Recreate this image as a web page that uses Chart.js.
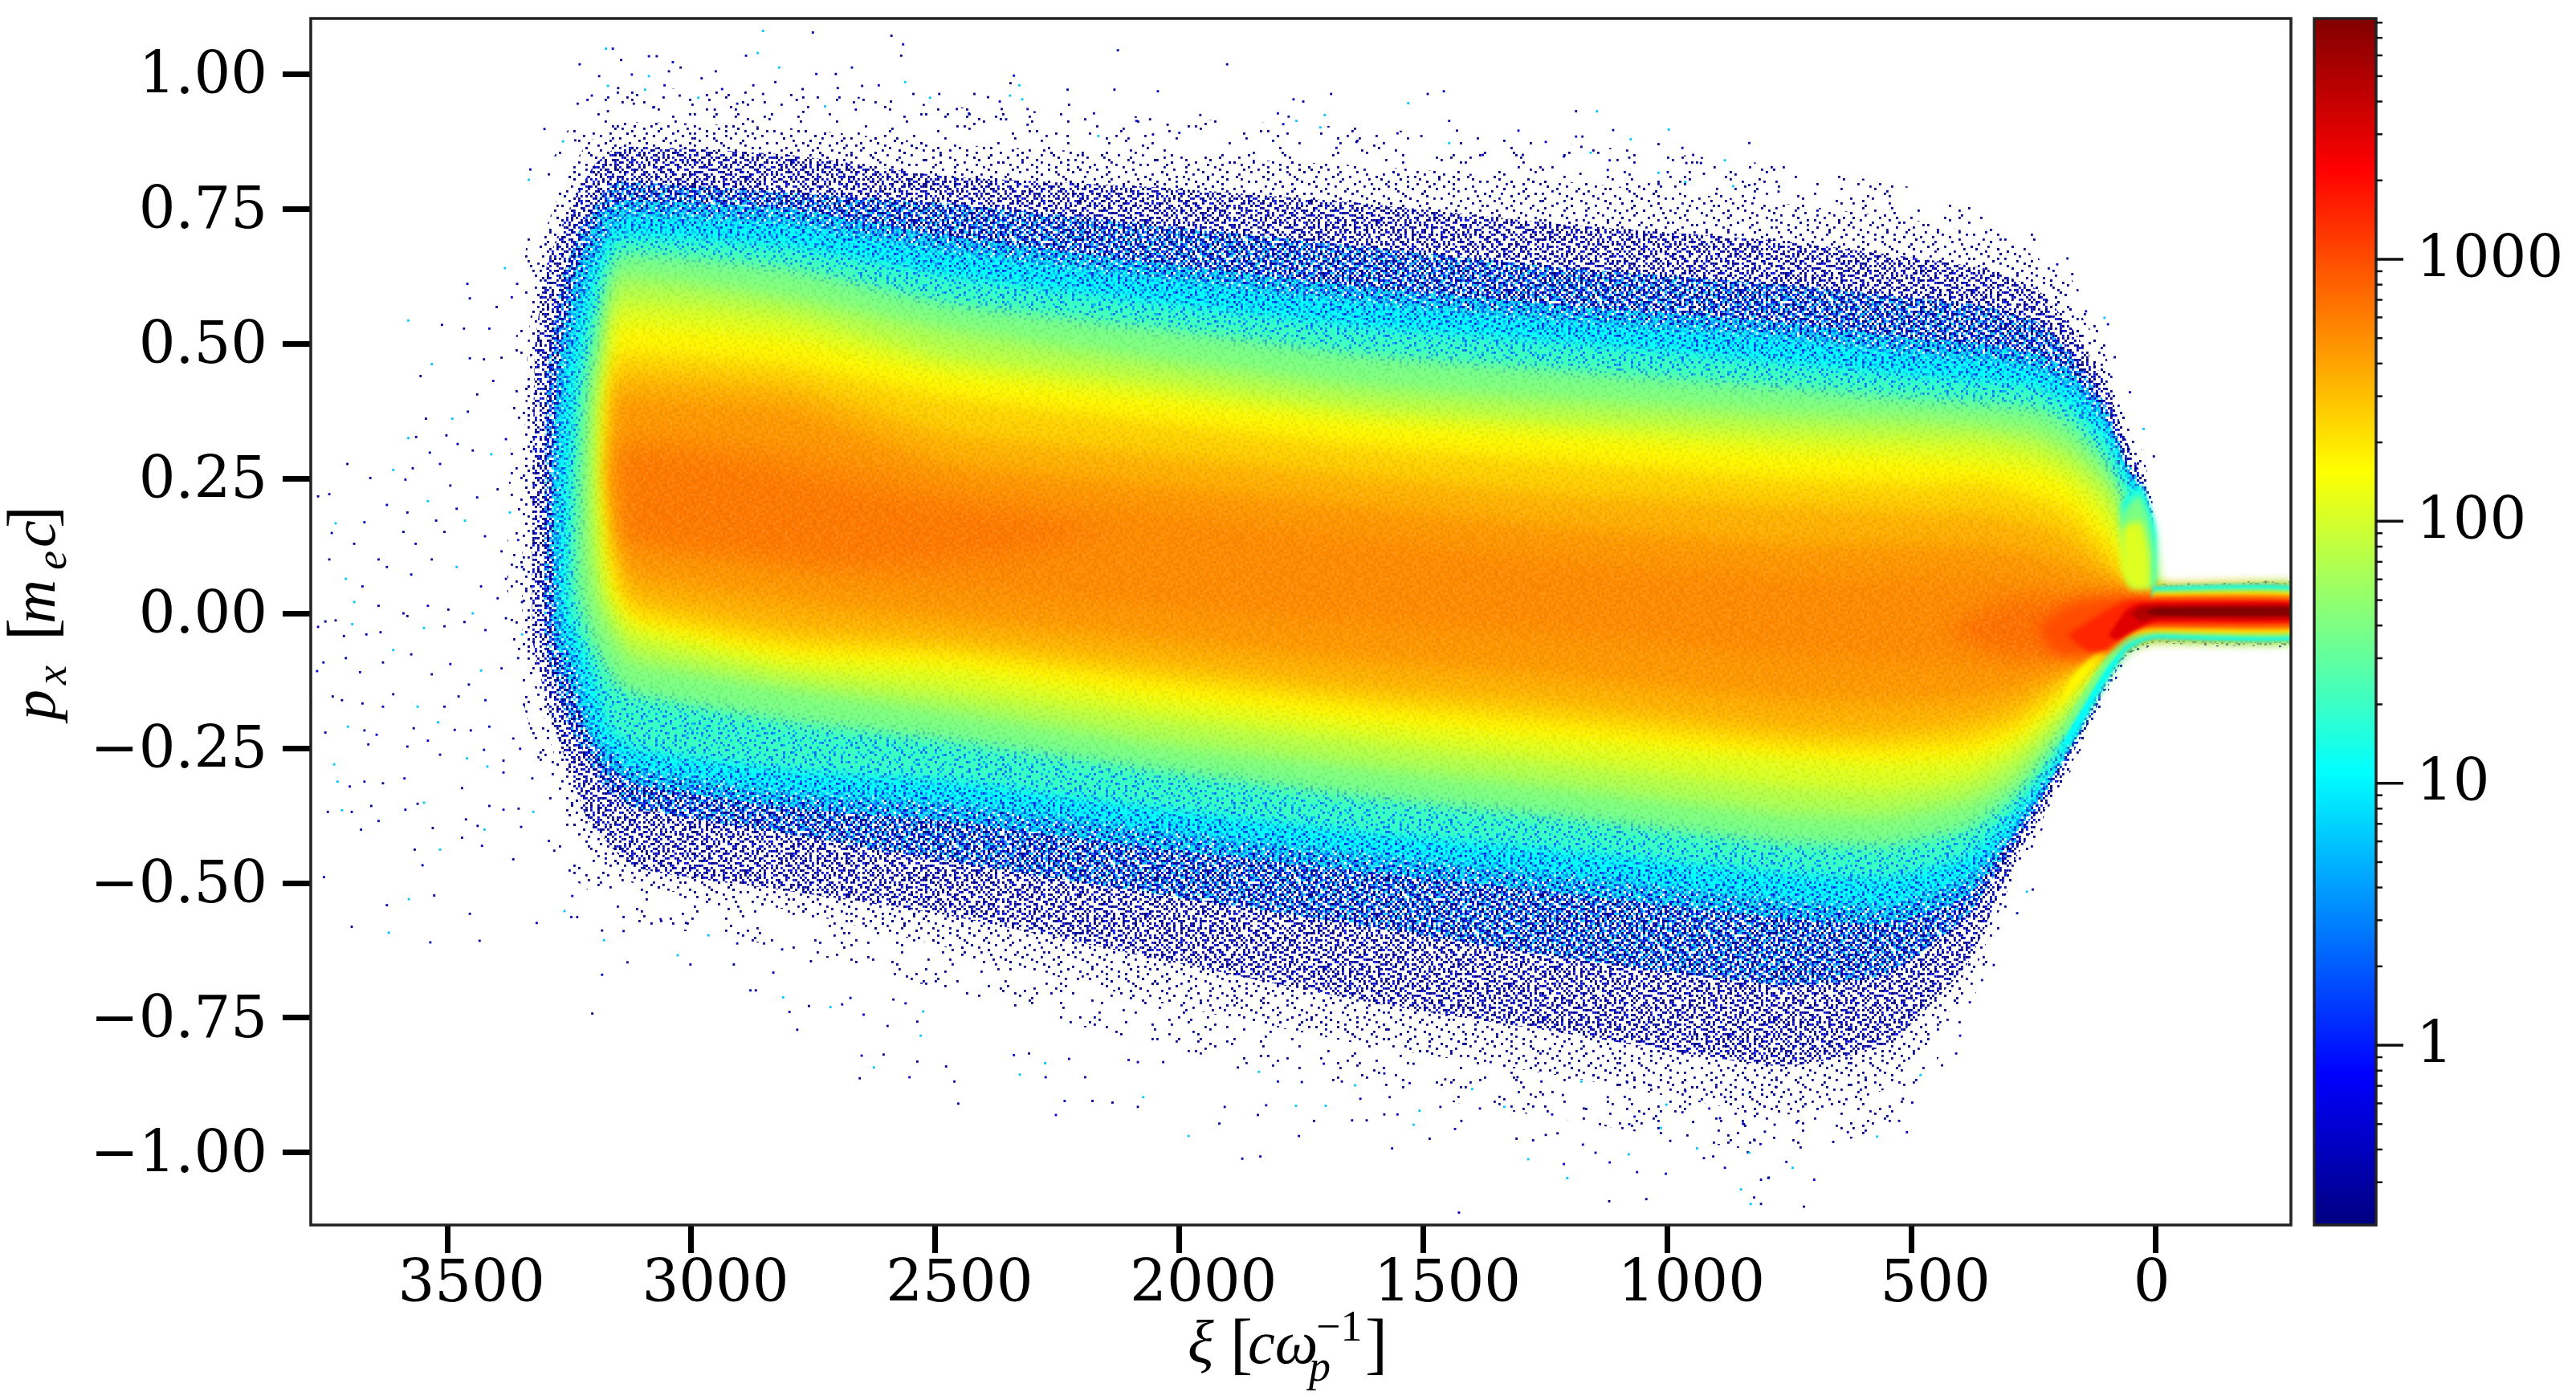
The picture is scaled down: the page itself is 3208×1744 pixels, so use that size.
<!DOCTYPE html>
<html>
<head>
<meta charset="utf-8">
<title>p_x phase space</title>
<script src="https://cdn.jsdelivr.net/npm/chart.js@4/dist/chart.umd.min.js"></script>
<style>
  html, body { margin: 0; background: #fff; }
  #wrap { position: relative; width: 3208px; height: 1744px; overflow: hidden; }
  canvas { position: absolute; top: 0; }
</style>
</head>
<body>
<div id="wrap">
  <canvas id="phase" width="2860" height="1744" style="left:0"></canvas>
  <canvas id="cbar" width="348" height="1744" style="left:2860px"></canvas>
</div>
<script>
const xTicks = [3500, 3000, 2500, 2000, 1500, 1000, 500, 0];
const yTicks = [1, 0.75, 0.5, 0.25, 0, -0.25, -0.5, -0.75, -1];
const xRange = [-278, 3780];
const yRange = [-1.134, 1.103];
const cbarRange = [0.206, 8300];
const cbarMajor = [1, 10, 100, 1000];
const cbarMinor = [0.3, 0.4, 0.5, 0.6, 0.7, 0.8, 0.9, 2, 3, 4, 5, 6, 7, 8, 9, 20, 30, 40, 50, 60, 70, 80, 90,
  200, 300, 400, 500, 600, 700, 800, 900, 2000, 3000, 4000, 5000, 6000, 7000, 8000];

// contour stations along xi, top edge and bottom edge of the bunch
const stationsTop = [3150, 2800, 2475, 2050, 1620, 1200, 764, 500, 352, 241, 172, 103, 61, 26, 6, -3, -300];
const stationsLow = [3120, 2800, 2475, 2050, 1620, 1200, 764, 550, 385, 296, 241, 172, 103, 61, 26, 0, -300];

// speckle fringe, faint to dense
const faintTop = [.97, .97, .94, .92, .90, .87, .83, .79, .75, .70, .62, .52, .39, .30, .21, .06, .06];
const faintLow = [-.57, -.62, -.70, -.80, -.88, -.94, -1.0, -.95, -.74, -.53, -.42, -.29, -.16, -.095, -.068, -.058, -.058];
const faintLeft = [[3260, -.48], [3320, -.25], [3375, -.05], [3375, .2], [3360, .5], [3335, .7], [3290, .83], [3230, .93]];
const sparseTop = [.91, .90, .87, .85, .83, .80, .76, .73, .70, .66, .58, .48, .36, .28, .20, .058, .058];
const sparseLow = [-.50, -.55, -.62, -.72, -.80, -.86, -.93, -.88, -.69, -.50, -.40, -.28, -.155, -.09, -.066, -.056, -.056];
const sparseLeft = [[3240, -.40], [3300, -.2], [3345, -.05], [3345, .2], [3335, .5], [3310, .68], [3270, .78], [3215, .87]];
const midTop = [.865, .85, .81, .79, .76, .72, .69, .66, .64, .60, .53, .43, .325, .25, .19, .056, .056];
const midLow = [-.47, -.515, -.56, -.64, -.72, -.78, -.84, -.80, -.65, -.47, -.385, -.265, -.145, -.08, -.06, -.053, -.053];
const midLeft = [[3215, -.38], [3285, -.2], [3325, -.05], [3325, .25], [3320, .5], [3295, .65], [3250, .75], [3200, .83]];
const denseTop = [.80, .78, .76, .72, .68, .64, .61, .585, .57, .54, .48, .39, .29, .235, .18, .052, .052];
const denseLow = [-.36, -.41, -.46, -.52, -.58, -.64, -.69, -.67, -.56, -.44, -.36, -.25, -.135, -.075, -.055, -.05, -.05];
const denseLeft = [[3180, -.32], [3255, -.2], [3300, -.05], [3300, .25], [3295, .45], [3265, .62], [3225, .72], [3180, .78]];
const blendTop = [.765, .75, .70, .65, .605, .57, .54, .51, .50, .48, .45, .37, .275, .225, .175, .05, .05];
const blendLow = [-.315, -.36, -.385, -.435, -.48, -.52, -.565, -.575, -.525, -.42, -.345, -.245, -.13, -.072, -.054, -.048, -.048];
const blendLeft = [[3190, -.27], [3245, -.14], [3280, -.04], [3285, .25], [3272, .46], [3235, .64], [3190, .74]];

// counts per bin, solid part
const top10 = [.735, .72, .67, .62, .575, .54, .51, .48, .47, .45, .42, .35, .26, .215, .17, .048, .048];
const low10 = [-.285, -.33, -.35, -.40, -.445, -.485, -.53, -.54, -.49, -.40, -.33, -.235, -.125, -.07, -.052, -.047, -.047];
const left10 = [[3200, -.22], [3235, -.09], [3265, -.03], [3270, .25], [3255, .46], [3205, .64], [3165, .71]];
const top20 = [.70, .68, .625, .575, .53, .50, .465, .44, .43, .42, .385, .32, .235, .195, .15, .045, .045];
const low20 = [-.25, -.29, -.31, -.36, -.405, -.44, -.48, -.49, -.45, -.375, -.31, -.22, -.115, -.065, -.049, -.044, -.044];
const left20 = [[3170, -.21], [3215, -.08], [3250, 0], [3250, .25], [3235, .44], [3195, .62], [3165, .68]];
const top40 = [.665, .64, .575, .53, .48, .45, .42, .40, .39, .38, .35, .285, .21, .17, .12, .042, .042];
const low40 = [-.15, -.20, -.235, -.29, -.34, -.38, -.425, -.43, -.40, -.345, -.29, -.205, -.105, -.06, -.046, -.041, -.041];
const left40 = [[3155, -.13], [3205, -.05], [3235, .05], [3230, .25], [3215, .42], [3180, .58]];
const top70 = [.62, .585, .525, .47, .42, .395, .37, .36, .35, .335, .305, .25, .18, .135, .09, .04, .04];
const low70 = [-.09, -.14, -.18, -.24, -.285, -.325, -.37, -.375, -.35, -.31, -.26, -.185, -.095, -.055, -.043, -.038, -.038];
const left70 = [[3150, -.06], [3185, 0], [3205, .1], [3205, .3], [3195, .42], [3170, .54]];
const top110 = [.575, .55, .475, .43, .38, .355, .335, .325, .32, .30, .27, .215, .14, .10, .06, .038, .038];
const low110 = [-.05, -.11, -.145, -.195, -.24, -.28, -.32, -.33, -.31, -.27, -.23, -.165, -.085, -.05, -.04, -.036, -.036];
const left110 = [[3175, .03], [3190, .15], [3190, .35], [3170, .48]];
const top170 = [.535, .51, .445, .40, .355, .33, .30, .29, .28, .265, .235, .17, .10, .06, .045, .036, .036];
const low170 = [-.02, -.085, -.105, -.16, -.205, -.24, -.27, -.28, -.27, -.24, -.205, -.145, -.075, -.045, -.037, -.034, -.034];
const left170 = [[3165, .05], [3180, .2], [3175, .38], [3160, .48]];
const top250 = [.48, .46, .40, .355, .31, .28, .25, .24, .24, .215, .19, .13, .075, .05, .04, .034, .034];
const low250 = [0, -.06, -.075, -.125, -.17, -.205, -.245, -.25, -.24, -.215, -.18, -.125, -.065, -.04, -.034, -.032, -.032];
const left250 = [[3160, .08], [3172, .25], [3165, .42]];
const top350 = [.44, .42, .335, .295, .255, .22, .20, .19, .185, .165, .14, .09, .055, .045, .037, .032, .032];
const low350 = [.03, -.03, -.05, -.095, -.14, -.17, -.215, -.22, -.205, -.185, -.155, -.105, -.055, -.036, -.03, -.028, -.028];
const left350 = [[3150, .10], [3165, .25], [3160, .40]];
const top450 = [.40, .38, .28, .24, .20, .16, .13, .13, .125, .11, .09, .06, .045, .04, .035, .03, .03];
const low450 = [.07, .02, -.01, -.05, -.09, -.12, -.16, -.165, -.16, -.145, -.125, -.09, -.05, -.032, -.028, -.026, -.026];
const left450 = [[3140, .13], [3160, .25], [3155, .37]];

// inner islands and the cold beam on the right, closed outlines [xi, p]
const poly520 = [[3135, .13], [3150, .25], [3130, .33], [2800, .31], [2475, .24], [2050, .19], [1620, .14], [1200, .10], [764, .07], [500, .07], [352, .07], [241, .06], [172, .05], [103, .045], [61, .038], [26, .034], [0, .03], [-300, .028], [-300, -.024], [0, -.027], [26, -.03], [61, -.04], [103, -.06], [172, -.08], [241, -.10], [352, -.10], [500, -.09], [764, -.08], [1200, -.04], [1620, -.02], [2050, .01], [2475, .04], [2800, .08], [3120, .12]];
const poly620 = [[3135, .2], [3140, .30], [2900, .28], [2700, .24], [2400, .19], [2150, .15], [2400, .10], [2700, .09], [2900, .11], [3130, .14]];
const polyWedge = [[430, -.03], [300, .025], [172, .032], [100, .033], [40, .032], [0, .028], [-300, .026], [-300, -.022], [0, -.025], [40, -.03], [100, -.055], [172, -.08], [300, -.08]];
const wall10 = [[0, .05], [0, .15], [10, .19], [30, .24], [70, .20], [40, .06]];
const wall40 = [[4, .05], [4, .13], [14, .18], [34, .22], [70, .18], [50, .05]];
const wall110 = [[10, .045], [12, .11], [30, .17], [65, .16], [70, .08], [50, .045]];
const tail10 = [[5, .05], [-300, .048], [-300, -.047], [0, -.047], [26, -.052], [61, -.07], [103, -.125], [172, -.235], [200, -.26], [172, -.21], [103, -.10], [61, -.05], [30, -.02], [8, .02]];
const tail40 = [[4, .044], [-300, .042], [-300, -.041], [0, -.041], [26, -.046], [61, -.06], [103, -.105], [172, -.205], [200, -.24], [172, -.185], [103, -.085], [61, -.04], [35, -.015], [8, .02]];
const tail170 = [[3, .038], [-300, .036], [-300, -.034], [0, -.034], [26, -.037], [61, -.045], [103, -.075], [172, -.145], [200, -.18], [172, -.12], [103, -.055], [61, -.03], [40, -.01], [6, .02]];
const tail450 = [[2, .032], [-300, .03], [-300, -.026], [0, -.026], [26, -.028], [61, -.032], [103, -.05], [172, -.09], [200, -.12], [172, -.07], [103, -.04], [61, -.02], [45, -.005], [10, .022]];
const poly1000 = [[240, -.02], [170, .02], [100, .03], [40, .03], [0, .026], [-300, .024], [-300, -.02], [0, -.023], [40, -.03], [100, -.065], [170, -.085], [220, -.065]];
const poly1500 = [[180, -.04], [110, 0], [60, .024], [20, .026], [-300, .022], [-300, -.018], [20, -.022], [60, -.04], [100, -.07], [140, -.07]];
const poly3000 = [[95, -.04], [60, .006], [35, .018], [0, .02], [-300, .019], [-300, -.013], [0, -.015], [40, -.03], [80, -.05]];
const poly5000 = [[50, 0], [30, .012], [0, .014], [-300, .014], [-300, -.007], [0, -.008], [30, -.015]];
const poly8000 = [[20, .003], [0, .010], [-300, .011], [-300, -.003], [0, -.004]];

// lone particles outside the fringe
const outliers = [
  [3765,.217],[3742,.221],[3705,.277],[3729,.167],[3737,.149],[3691,.129],[3670,.169],[3658,.251],[3611,.266],[3586,.248],[3571,.269],[3515,.277],[3494,.237],
  [3580,.543],[3511,.535],[3466,.528],[3414,.528],[3555,.44],[3532,.462],[3454,.473],[3425,.471],[3459,.611],[3454,.584],[3382,.64],[3357,.611],[3399,.568],[3368,.586],
  [3544,.361],[3490,.361],[3458,.374],[3439,.406],[3406,.431],[3389,.474],[3580,.325],[3564,.327],[3502,.33],[3479,.314],[3448,.302],[3410,.295],[3380,.323],[3536,.298],
  [3624,.201],[3582,.187],[3540,.208],[3523,.172],[3481,.194],[3439,.215],[3397,.23],[3372,.187],[3641,.10],[3590,.151],[3565,.129],[3506,.151],[3464,.172],[3423,.143],[3389,.115],[3355,.136],
  [3742,.10],[3708,.064],[3674,.05],[3624,.086],[3574,.072],[3532,.10],[3481,.086],[3431,.05],[3380,.064],[3347,.086],[3750,-.015],[3691,.021],[3641,.014],[3590,0],[3540,.014],[3498,.007],[3448,0],[3397,.028],[3347,.021],
  [3765,-.025],[3729,-.013],[3695,-.02],[3666,-.039],[3712,-.042],[3637,-.035],[3582,-.005],[3548,-.027],[3506,-.024],[3465,-.016],[3422,-.031],[3380,-.009],[3347,-.039],
  [3754,-.091],[3708,-.083],[3679,-.109],[3632,-.091],[3611,-.068],[3574,-.076],[3532,-.113],[3494,-.094],[3456,-.132],[3431,-.106],[3389,-.102],[3355,-.083],
  [3767,-.107],[3735,-.154],[3779,-.165],[3674,-.167],[3716,-.161],[3632,-.173],[3611,-.15],[3561,-.173],[3506,-.173],[3477,-.154],[3422,-.161],[3343,-.169],
  [3704,-.21],[3750,-.221],[3670,-.217],[3645,-.225],[3569,-.213],[3519,-.202],[3485,-.216],[3452,-.217],[3414,-.21],[3365,-.232],
  [3732,-.28],[3662,-.243],[3582,-.247],[3540,-.236],[3515,-.262],[3460,-.269],[3425,-.253],[3385,-.273],[3351,-.251],[3309,-.258],
  [3725,-.312],[3670,-.312],[3632,-.315],[3588,-.306],[3470,-.324],[3418,-.284],[3385,-.295],[3326,-.306],[3700,-.321],[3745,-.368],[3716,-.365],[3696,-.368],[3656,-.357],[3586,-.364],[3561,-.353],[3548,-.351],[3641,-.385],[3414,-.357],[3385,-.364],[3354,-.362],[3324,-.368],
  [3462,-.382],[3438,-.394],[3677,-.401],[3530,-.398],[3424,-.401],[3349,-.396],[3470,-.416],[3429,-.431],[3567,-.438],[3515,-.438],[3551,-.467],[3365,-.456],[3753,-.489],[3527,-.523],[3579,-.53],[3624,-.541],[3454,-.557],[3317,-.574],[3696,-.581],[3620,-.592],[3535,-.61],[3434,-.607],
  [3292,-.422],[3281,-.44],[3260,-.552],[3246,-.563],[3234,-.563],[3244,-.524],[3183,-.588],[3179,-.606],[3139,-.589],[3131,-.647],[3183,-.67],[3203,-.742],[3028,-.634],[3002,-.651],[2913,-.651],[2879,-.699],[2868,-.699],[2812,-.712],[2799,-.739],[2783,-.772],[2832,-.666],[2759,-.728],[2715,-.73],[2691,-.725],[2674,-.713],[2647,-.744],
  [2655,-.862],[2626,-.842],[2651,-.82],[2606,-.818],[2553,-.86],[2537,-.831],[2530,-.783],[2537,-.757],[2598,-.765],[2561,-.723],[2586,-.716],[2525,-.738],[2478,-.84],
  [3139,-.563],[3063,-.567],[3011,-.574],[2965,-.597],[2906,-.612],[2851,-.612],[2814,-.623],[2755,-.645],
  [3175,1.047],[3161,1.047],[3229,1.018],[3087,1.033],[3071,1.033],[2853,1.08],[2751,1.077],[2590,1.071],[2566,1.055],[2570,1.034],[2864,1.039],[2888,1.034],[3144,1.026],[3038,1.022],[3022,1.012],[2820,1.012],[2671,1.012],
  [3189,.996],[3122,.999],[3046,1.005],[3087,.996],[2979,.992],[2950,1.005],[2744,1.0],[2704,1.0],[2562,.985],[2873,.979],[2828,.985],[3055,.979],[3150,.974],[3171,.978],[2700,.974],[2650,.978],[2616,.979],[2545,.963],[2511,.956],[2492,.963],[2772,.972],[2937,.972],[3024,.96],[3095,.971],[3204,.96],[3233,.945],[3213,.952],[3118,.945],[2986,.956],[2853,.963],[2784,.952],[2663,.934],[2591,.949],[2726,.94],[2906,.945],[2952,.934],[3078,.938],[3171,.931],[3263,.875],[3301,.898],[3238,.877],[3330,.823],[3292,.814],[3333,.804],
  [2126,1.044],[1902,1.018],[2339,.997],[2346,.983],[2328,.979],[2229,.971],[2133,.971],[2044,.968],[2420,.963],[2347,.96],[1689,.963],[1491,.963],[1458,.968],[2392,.957],[2322,.953],[1766,.953],[1746,.949],[2368,.949],[2226,.943],[1531,.946],[2456,.935],[2364,.935],[2311,.935],[1187,.931],[1144,.931],[2175,.927],[1957,.924],[1798,.927],[1776,.921],[1702,.924],[2431,.927],[2355,.916],[2088,.913],[2060,.916],[1760,.913],[1447,.913],[2193,.916],[1787,.907],[2024,.906],[1711,.901],[2311,.906],[1111,.896],[1305,.895],[1431,.895],[997,.897],[1553,.89],[1504,.885],[2000,.891],[2229,.885],[2166,.885],[2054,.888],[1798,.885],[1187,.884],[1174,.884],[1075,.879],[832,.872],[1018,.87],[1249,.874],[1637,.874],[1447,.872],[969,.863],[1176,.865],[1678,.863],[947,.85],[1157,.854],[1378,.85],[1296,.85],[1212,.847],[1078,.845],[882,.84],[931,.835],[961,.835],[1118,.84],[903,.827],[1018,.817],[999,.818],[925,.815],[1122,.822],[1178,.815],[865,.792],[832,.794],[772,.782],[822,.77],[898,.787],[963,.8],[1018,.796],
  [180,.658],[201,.647],[170,.629],[104,.548],[97,.536],[83,.475],[52,.41],[3,.291],[24,.342],[142,.56],
  [2453,-.909],[2253,-.93],[2085,-.915],[2074,-.897],[2178,-.904],[2137,-.907],[2235,-.904],[2461,-.868],[2327,-.855],[2274,-.86],[2193,-.86],[2339,-.819],[2308,-.816],[2275,-.834],[2226,-.826],[2085,-.832],[2104,-.828],[2033,-.832],[1981,-.969],[1918,-.946],[1907,-.915],[1822,-.912],[1839,-.93],[1761,-.913],[1755,-.969],[1871,-1.011],[1834,-1.007],[1724,-.941],[1700,-.913],[1646,-.94],[1616,-.94],[1553,-.929],[1580,-.929],[1520,-.948],[1564,-.992],[1487,-.974],[1435,-.956],[1422,-.941],[1508,-.922],[1629,-.9],[1569,-.897],[1427,-1.111],
  [1309,-.974],[1285,-1.012],[1275,-.977],[1249,-.967],[1212,-1.021],[1225,-.964],[1205,-1.047],[1173,-.985],[1147,-1.0],[1118,-1.018],[1119,-1.09],[1079,-1.003],[1062,-1.036],[1043,-1.086],[1003,-1.039],[994,-.978],[939,-.992],[925,-1.01],[906,-1.007],[882,-1.028],[835,-.999],[849,-1.068],[822,-1.083],[808,-1.05],[793,-1.047],[808,-1.095],[829,-1.095],[822,-.976],[800,-.961],[892,-.936],[947,-.943],[1013,-.954],[1078,-.947],[1138,-.947],[1236,-.929],[1171,-.918],[1334,-.915],[1384,-.918],[1465,-.915],[1067,-.933],[843,-.947],[1002,-.911],[969,-.925],[1122,-.897],[914,-.918],
  [1880,-.842],[1837,-.85],[1798,-.868],[1749,-.869],[1704,-.835],[1667,-.868],[1640,-.875],[1580,-.853],[1520,-.835],[1528,-.871],[1455,-.864],[1400,-.882],[1362,-.832],[1307,-.86],[1258,-.868],[1214,-.893],[1176,-.868],[1083,-.868],[1034,-.875],[963,-.886],[778,-.878],[832,-.889],[882,-.897],
  [408,-.816],[400,-.783],[437,-.838],[481,-.856],[498,-.907],[517,-.9],[509,-.962],[525,-.941],[570,-.97],[630,-.962],[660,-.98],[699,-1.05],[720,-1.1],[743,-1.028],[756,-1.017],[792,-1.046],[809,-.984],[821,-.977],[832,-1.0],[735,-.944],[780,-.948],[845,-.946],[251,-.512],[263,-.516],[283,-.556],[331,-.652],[380,-.721],[355,-.68]
];

// hand typed rank tile for the speckle, a cell shows when its rank is below the layer density
const speckleTile = [
  '39172640851937205618473092651840',
  '72805193640281759306142857039261',
  '16493072851640329178560324917058',
  '50821647390715482603971846205739',
  '84367015296830614752089361574102',
  '27159430682459071836425190738646',
  '93601875243168950472316807952413',
  '41785026913724386059147268039581',
  '08342769150893617240586931472065',
  '65917384026451908763240175869324',
  '32460917583026174895613482097156',
  '79158240367195430682971054326887',
  '14026593871648209375164829503741',
  '86372105946370851429037516284690',
  '50941738260915376048251793640128',
  '27683041597482160935784206159373',
  '91405862371056829714630948527016',
  '48216709354827095163892475016382',
  '03759124680361547280916352748906',
  '76124958037492618305479061283545',
  '35890267415028763941205687391024',
  '62047391856714038257146920583769',
  '18563042971385620794831576204918',
  '94270815634960175382069143857206',
  '07381596240837492615750238916473',
  '53926471083152940876314695027186',
  '26815039742698051374928061453790',
  '81047263598410326957180342679514',
  '49630785127956483012657914803268',
  '15792340861203795648320571946037',
  '70384916253648017295468130725849',
  '32659081474175923806901764358210'
];
const speckleColorsSparse = ['#000096'];
const speckleColorsMid = ['#00007c', '#00008c', '#0000b4', '#0010e6'];
const speckleColorsDense = ['#00007c', '#000090', '#0000c0', '#0020f0', '#0060ff', '#00a0ff', '#00d0ff'];
const speckleColorsBlend = ['#0000b0', '#0030ff', '#0070ff', '#00a0ff', '#00c0ff', '#00d8ff', '#00e8f0', '#00f0e0', '#00d0ff'];
const sprinkleColorsOuter = ['#0020e0', '#0060ff', '#00a0ff', '#00c8ff'];
const sprinkleColorsInner = ['#0060ff', '#00a8ff'];
const grainColors = ['rgba(0,0,0,.06)', 'rgba(0,0,0,.04)', 'rgba(255,255,255,.10)', 'rgba(255,255,255,.07)', 'rgba(0,0,0,.03)'];

function jet(t) {
  const c = v => Math.round(255 * Math.max(0, Math.min(1, 1.5 - Math.abs(4 * t - v))));
  return `rgb(${c(3)},${c(2)},${c(1)})`;
}

function countColor(v) {
  const lo = Math.log10(cbarRange[0]);
  const hi = Math.log10(cbarRange[1]);
  return jet((Math.log10(v) - lo) / (hi - lo));
}

// three by three blocks of the tile, each shifted, so the repeat is less obvious
function specklePattern(colors, thin) {
  const cell = 3;
  const n = speckleTile.length;
  const blocks = 3;
  const tile = document.createElement('canvas');
  tile.width = tile.height = n * blocks * cell;
  const g = tile.getContext('2d');
  for (let by = 0; by < blocks; by++) {
    for (let bx = 0; bx < blocks; bx++) {
      for (let j = 0; j < n; j++) {
        const row = speckleTile[(j + by * 11 + bx * 7) % n];
        for (let i = 0; i < n; i++) {
          const rank = Number(row[(i + bx * 13 + by * 5) % n]);
          if (rank >= colors.length) continue;
          if (thin && (i + j * 7) % 3 !== 0) continue;
          g.fillStyle = colors[rank];
          g.fillRect((bx * n + i) * cell, (by * n + j) * cell, 2.8, 2.8);
        }
      }
    }
  }
  return g.createPattern(tile, 'repeat');
}

function outline(left, top, low) {
  const pts = left.map(p => ({x: p[0], y: p[1]}));
  stationsTop.forEach((xi, i) => pts.push({x: xi, y: top[i]}));
  for (let i = stationsLow.length - 1; i >= 0; i--) pts.push({x: stationsLow[i], y: low[i]});
  pts.push(pts[0]);
  return pts;
}

function closed(poly) {
  const pts = poly.map(p => ({x: p[0], y: p[1]}));
  pts.push(pts[0]);
  return pts;
}

function contour(label, data, color, nextBlur) {
  return {
    label, data, backgroundColor: color, borderWidth: 0, borderColor: 'transparent',
    fill: 'shape', tension: 0.15, pointRadius: 0, nextBlur
  };
}

// painted outermost first, nextBlur softens whatever comes after
const layers = [
  {
    label: 'outliers', data: outliers.map(p => ({x: p[0], y: p[1]})), showLine: false,
    pointStyle: 'rect', pointRadius: 2, pointBorderWidth: 0,
    pointBackgroundColor: ctx => ['#00009a', '#0000d0', '#00008c', '#00c8ff', '#0000b4'][ctx.dataIndex % 5]
  },
  contour('faint', outline(faintLeft, faintTop, faintLow), specklePattern(speckleColorsSparse, true)),
  contour('sparse', outline(sparseLeft, sparseTop, sparseLow), specklePattern(speckleColorsSparse)),
  contour('mid', outline(midLeft, midTop, midLow), specklePattern(speckleColorsMid)),
  contour('dense', outline(denseLeft, denseTop, denseLow), specklePattern(speckleColorsDense)),
  contour('blend', outline(blendLeft, blendTop, blendLow), specklePattern(speckleColorsBlend), 5),
  contour('10', outline(left10, top10, low10), countColor(11)),
  contour('sprinkle10', outline(left10, top10, low10), specklePattern(sprinkleColorsOuter), 7),
  contour('20', outline(left20, top20, low20), countColor(20)),
  contour('sprinkle20', outline(left20, top20, low20), specklePattern(sprinkleColorsInner), 9),
  contour('40', outline(left40, top40, low40), countColor(40), 10),
  contour('70', outline(left70, top70, low70), countColor(70), 10),
  contour('110', outline(left110, top110, low110), countColor(110), 10),
  contour('170', outline(left170, top170, low170), countColor(170), 10),
  contour('250', outline(left250, top250, low250), countColor(250), 10),
  contour('350', outline(left350, top350, low350), countColor(350), 10),
  contour('450', outline(left450, top450, low450), countColor(450), 14),
  contour('520', closed(poly520), countColor(520), 14),
  contour('620', closed(poly620), countColor(620), 12),
  contour('wedge', closed(polyWedge), countColor(680)),
  contour('grain', outline(left40, top40, low40), specklePattern(grainColors), 3),
  contour('wall10', closed(wall10), countColor(14), 4),
  contour('wall40', closed(wall40), countColor(40), 4),
  contour('wall110', closed(wall110), countColor(110), 2),
  contour('tail10', closed(tail10), countColor(11), 2),
  contour('tail40', closed(tail40), countColor(40), 2),
  contour('tail170', closed(tail170), countColor(170), 2),
  contour('tail450', closed(tail450), countColor(450), 8),
  contour('1000', closed(poly1000), countColor(1000), 3),
  contour('1500', closed(poly1500), countColor(1500), 2),
  contour('3000', closed(poly3000), countColor(3000), 2),
  contour('5000', closed(poly5000), countColor(5000), 1.5),
  contour('8000', closed(poly8000), countColor(8000))
];
layers.forEach((d, i) => { d.order = layers.length - i; });

const blurPlugin = {
  id: 'blurPlugin',
  afterDatasetDraw(chart, args) {
    const next = chart.data.datasets[args.index].nextBlur;
    chart.ctx.filter = next ? `blur(${next}px)` : 'none';
  },
  afterDatasetsDraw(chart) {
    chart.ctx.filter = 'none';
  }
};

const framePlugin = {
  id: 'framePlugin',
  afterDraw(chart) {
    const {ctx, chartArea: a} = chart;
    ctx.save();
    ctx.strokeStyle = '#222';
    ctx.lineWidth = 3.5;
    ctx.strokeRect(a.left, a.top, a.right - a.left, a.bottom - a.top);
    ctx.restore();
  }
};

const mathSerif = 'Liberation Serif';
function put(ctx, text, x, y, size, italic) {
  ctx.font = `${italic ? 'italic ' : ''}${size}px "${mathSerif}"`;
  ctx.fillText(text, x, y);
}

const axisTitles = {
  id: 'axisTitles',
  afterDraw(chart) {
    const ctx = chart.ctx;
    ctx.save();
    ctx.fillStyle = '#000';
    ctx.textAlign = 'left';
    ctx.textBaseline = 'alphabetic';
    put(ctx, 'ξ', 1479, 1698, 76, true);
    put(ctx, '[', 1532, 1702, 84, false);
    put(ctx, 'cω', 1554, 1698, 76, true);
    put(ctx, '−1', 1639, 1670, 54, false);
    put(ctx, 'p', 1630, 1720, 54, true);
    put(ctx, ']', 1700, 1702, 84, false);

    ctx.translate(68, 0);
    ctx.rotate(-Math.PI / 2);
    put(ctx, 'p', -897, 0, 76, true);
    put(ctx, 'x', -853, 14, 54, true);
    put(ctx, '[', -798, 0, 84, false);
    put(ctx, 'm', -777, 0, 76, true);
    put(ctx, 'e', -710, 14, 54, true);
    put(ctx, 'c', -682, 0, 76, true);
    put(ctx, ']', -658, 0, 84, false);
    ctx.restore();
  }
};

const tickFont = {family: '"DejaVu Serif"', size: 72};

new Chart(document.getElementById('phase'), {
  type: 'line',
  data: {datasets: layers},
  plugins: [blurPlugin, framePlugin, axisTitles],
  options: {
    responsive: false,
    animation: false,
    events: [],
    layout: {padding: {top: 23, right: 7, left: 0, bottom: 0}},
    plugins: {legend: {display: false}, title: {display: false}, tooltip: {enabled: false}},
    scales: {
      x: {
        type: 'linear',
        reverse: true,
        min: xRange[0],
        max: xRange[1],
        afterBuildTicks: s => { s.ticks = xTicks.map(value => ({value})); },
        afterFit: s => { s.height = 218; s.paddingLeft = 0; s.paddingRight = 0; },
        border: {display: false},
        grid: {drawOnChartArea: false, tickLength: 35, tickWidth: 7, tickColor: '#000'},
        // the thousands sit about 30px right of their tick in the original, the 0 does not
        ticks: {
          color: '#000', font: tickFont, padding: -2, labelOffset: 30, maxRotation: 0, autoSkip: false,
          callback: v => (v === 0 ? '0   ' : String(v))
        }
      },
      y: {
        type: 'linear',
        min: yRange[0],
        max: yRange[1],
        afterBuildTicks: s => { s.ticks = yTicks.map(value => ({value})); },
        afterFit: s => { s.width = 387; s.paddingTop = 0; s.paddingBottom = 0; },
        border: {display: false},
        grid: {drawOnChartArea: false, tickLength: 35, tickWidth: 7, tickColor: '#000'},
        ticks: {
          color: '#000', font: tickFont, padding: 19, labelOffset: 5, autoSkip: false,
          callback: v => (v < 0 ? '\u2212' : '') + Math.abs(v).toFixed(2)
        }
      }
    }
  }
});

const cbarTicks = {
  id: 'cbarTicks',
  afterDraw(chart) {
    const {ctx, chartArea: a, scales: {y}} = chart;
    ctx.save();
    ctx.strokeStyle = '#111';
    y.ticks.forEach(t => {
      const py = y.getPixelForValue(t.value);
      const major = cbarMajor.includes(t.value);
      ctx.lineWidth = major ? 3.5 : 2.5;
      ctx.beginPath();
      ctx.moveTo(a.right, py);
      ctx.lineTo(a.right + (major ? 34 : 8), py);
      ctx.stroke();
    });
    ctx.restore();
  }
};

new Chart(document.getElementById('cbar'), {
  type: 'bar',
  data: {
    labels: ['count'],
    datasets: [{
      data: [cbarRange],
      barPercentage: 1,
      categoryPercentage: 1,
      backgroundColor: ctx => {
        const a = ctx.chart.chartArea;
        if (!a) return '#000';
        const grad = ctx.chart.ctx.createLinearGradient(0, a.bottom, 0, a.top);
        for (let i = 0; i <= 32; i++) grad.addColorStop(i / 32, jet(i / 32));
        return grad;
      }
    }]
  },
  plugins: [framePlugin, cbarTicks],
  options: {
    responsive: false,
    animation: false,
    events: [],
    layout: {padding: {top: 23, left: 22, right: 0, bottom: 218}},
    plugins: {legend: {display: false}, tooltip: {enabled: false}},
    scales: {
      x: {display: false},
      y: {
        type: 'logarithmic',
        position: 'right',
        min: cbarRange[0],
        max: cbarRange[1],
        afterBuildTicks: s => { s.ticks = cbarMajor.concat(cbarMinor).map(value => ({value})); },
        afterFit: s => { s.width = 249; s.paddingTop = 0; s.paddingBottom = 0; },
        border: {display: false},
        grid: {display: false},
        ticks: {
          color: '#000', font: tickFont, padding: 42, labelOffset: 3, autoSkip: false,
          callback: v => (cbarMajor.includes(v) ? String(v) : '')
        }
      }
    }
  }
});
</script>
</body>
</html>
